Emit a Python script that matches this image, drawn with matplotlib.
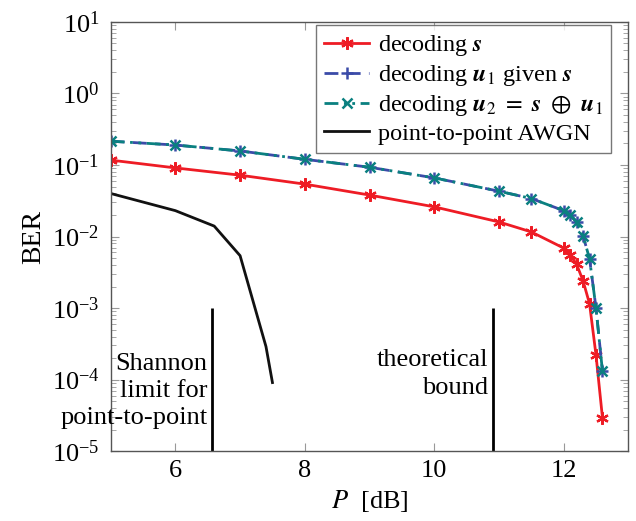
import numpy as np
import matplotlib
matplotlib.use("Agg")
import matplotlib.pyplot as plt
from matplotlib.ticker import LogLocator, NullFormatter

plt.rcParams['font.family'] = ['Liberation Serif', 'DejaVu Serif']
plt.rcParams['mathtext.fontset'] = 'stix'

# SNR points (dB)
p_dec = [5, 6, 7, 8, 9, 10, 11, 11.5, 12.0, 12.1, 12.2, 12.3, 12.4, 12.5, 12.6]
ber_s = [0.117, 0.091, 0.072, 0.054, 0.038, 0.026, 0.016, 0.0116, 0.0069,
         0.0056, 0.0041, 0.0024, 0.00115, 0.00022, 2.9e-5]
ber_u1 = [0.215, 0.19, 0.157, 0.12, 0.093, 0.066, 0.043, 0.034, 0.023,
          0.020, 0.016, 0.0102, 0.0049, 0.001, 1.3e-4]
ber_u2 = ber_u1

p_awgn = [5, 6, 6.6, 7, 7.4, 7.5]
ber_awgn = [0.040, 0.023, 0.014, 0.0054, 2.9e-4, 9.1e-5]

shannon_x = 6.57
bound_x = 10.91

fig = plt.figure(figsize=(6.36, 5.21), dpi=100)
ax = fig.add_axes([0.174, 0.134, 0.814, 0.824])

star = (6, 2, 0)
ax.plot(p_dec, ber_s, color='#ee1c25', lw=2, marker=star, ms=9, mew=1.6,
        label=r'decoding $\mathbfit{s}$')
ax.plot(p_dec, ber_u1, color='#3b4ba8', lw=2, ls=(0, (5, 3)), marker='+', ms=9, mew=1.8,
        label=r'decoding $\mathbfit{u}_1$ given $\mathbfit{s}$')
ax.plot(p_dec, ber_u2, color='#0a8080', lw=2, ls=(0, (5, 2, 1, 2, 1, 2)), marker='x', ms=7, mew=1.8,
        label=r'decoding $\mathbfit{u}_2\ =\ \mathbfit{s}\ \oplus\ \mathbfit{u}_1$')
ax.plot(p_awgn, ber_awgn, color='#111111', lw=2, label='point-to-point AWGN')

ax.vlines([shannon_x, bound_x], 1e-5, 1e-3, color='black', lw=2)
ax.text(shannon_x - 0.07, 6.9e-5, 'Shannon\nlimit for\npoint-to-point', ha='right', va='center',
        fontsize=19, linespacing=1.3)
ax.text(bound_x - 0.07, 1.2e-4, 'theoretical\nbound', ha='right', va='center',
        fontsize=19, linespacing=1.3)

ax.set_yscale('log')
ax.set_xlim(5, 13)
ax.set_ylim(1e-5, 10)
ax.set_xticks([6, 8, 10, 12])
ax.yaxis.set_major_locator(LogLocator(base=10, numticks=10))
ax.yaxis.set_minor_locator(LogLocator(base=10, subs=np.arange(2, 10), numticks=10))
ax.yaxis.set_minor_formatter(NullFormatter())
ax.tick_params(which='both', direction='in', top=True, right=True, color='#999999',
               labelsize=19)
ax.tick_params(axis='x', pad=6)
ax.tick_params(axis='y', pad=8)
ax.tick_params(which='major', length=6)
ax.tick_params(which='minor', length=3.5)
for sp in ax.spines.values():
    sp.set_color('#555555')
    sp.set_linewidth(1)

ax.set_xlabel(r'$P$  [dB]', fontsize=19, labelpad=5)
ax.set_ylabel('BER', fontsize=20, labelpad=4)

leg = ax.legend(loc='upper right', bbox_to_anchor=(0.967, 0.993), fontsize=17.5,
                frameon=True, fancybox=False, edgecolor='#555555', handlelength=1.85,
                borderaxespad=0, borderpad=0.35, labelspacing=0.2, handletextpad=0.35)
leg.get_frame().set_linewidth(1)

fig.savefig('out.png', dpi=100)
